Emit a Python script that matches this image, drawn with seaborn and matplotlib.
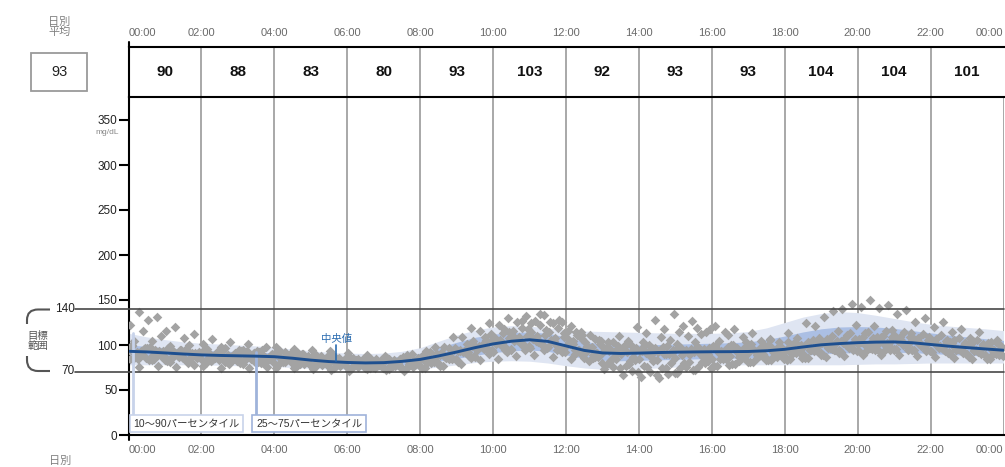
import numpy as np
import pandas as pd
import matplotlib
matplotlib.use("Agg")
import matplotlib.pyplot as plt
from matplotlib.lines import Line2D
from matplotlib.path import Path
from matplotlib.patches import PathPatch, Rectangle
import matplotlib.transforms as mtransforms
import seaborn as sns

# ---------------------------------------------------------------- data
tick_hours = list(range(0, 25, 2))
tick_labels = ["00:00", "02:00", "04:00", "06:00", "08:00", "10:00", "12:00",
               "14:00", "16:00", "18:00", "20:00", "22:00", "00:00"]

# two-hour block averages (mg/dL) and the daily average
block_centers = [1, 3, 5, 7, 9, 11, 13, 15, 17, 19, 21, 23]
block_means = [90, 88, 83, 80, 93, 103, 92, 93, 93, 104, 104, 101]
daily_mean = 93

# percentile profile, every 30 minutes from 00:00 to 24:00
profile_hours = [i * 0.5 for i in range(49)]
p10 = [78, 78, 78, 78, 78, 77.5, 77, 76.5, 76, 75, 74, 73, 72.5, 72, 72, 72.5,
       73.5, 75.5, 78, 80.5, 82, 82.5, 82, 80, 77, 74.5, 73, 73, 73.5, 74.5,
       75.5, 76.5, 77.5, 78, 78, 78, 78, 78, 78, 78, 78.5, 79, 79, 79.5, 80,
       80, 80, 80, 80]
p25 = [87, 86.5, 86, 85.2, 84.5, 84, 83.5, 83, 82.3, 81, 79.5, 78, 77, 76.6,
       76.8, 77.8, 79.5, 82, 85, 88.5, 91.5, 93.5, 94.5, 93, 89, 85, 83, 82.5,
       83, 83.5, 84, 84.5, 85, 85.2, 85.5, 86, 87, 88.5, 90, 91, 91.5, 92, 92,
       91.5, 90.5, 89.5, 88.5, 88, 87.5]
p50 = [93, 92.3, 91.2, 90, 89, 88.4, 88, 87.6, 87, 85.3, 83.2, 81.6, 80.6, 80.1,
       80.4, 81.8, 84, 87.8, 92.2, 97, 101.2, 104.2, 105.8, 104, 99, 94, 91.2,
       90.6, 91, 91.6, 92, 92.3, 92.5, 92.6, 92.8, 93.6, 95.2, 97.8, 100.2,
       101.6, 102.6, 103.2, 103.4, 102.5, 100.6, 98.7, 97.1, 95.6, 94.2]
p75 = [100, 98.5, 97, 95.5, 94.3, 93.4, 92.7, 92, 91.3, 89.6, 87.7, 86.2, 85.3,
       85, 85.5, 87.5, 91, 97, 103, 108.5, 112, 114, 114.5, 113, 109, 104, 101,
       100, 100, 100.5, 101, 101.5, 102, 102.5, 103.5, 106, 110, 114.5, 118,
       120, 120.5, 120, 118.5, 116, 113.5, 111, 109, 107, 105]
p90 = [113, 109, 106, 103.5, 102, 101, 100, 99, 97.5, 95.5, 93.5, 92, 91, 90.5,
       91, 93, 97, 104, 111, 116.5, 120, 121.5, 121, 119, 117, 115.5, 115,
       114.5, 114, 113.5, 113, 113, 113, 113.5, 115, 119, 125, 131, 135, 137,
       136, 133, 129.5, 126, 123, 121, 119.5, 118, 116]

# sensor readings, one list per day, every 15 minutes from midnight
day_01 = [94, 85, 97, 88, 83, 92, 86, 90, 91, 82, 88, 79, 86, 93, 84, 80,
          88, 81, 85, 90, 78, 86, 80, 84, 76, 83, 79, 74, 81, 77, 75, 80,
          77, 84, 80, 88, 83, 91, 87, 96, 92, 99, 94, 103, 97, 104, 98, 95,
          99, 90, 94, 86, 91, 84, 90, 82, 85, 92, 83, 90, 86, 80, 92, 87,
          84, 93, 88, 82, 91, 86, 84, 93, 87, 95, 90, 96, 91, 99, 94, 97,
          101, 94, 99, 95, 96, 102, 95, 100, 93, 99, 92, 96, 90, 95, 89, 93]
day_02 = [122, 137, 128, 131, 116, 120, 108, 112, 101, 107, 98, 103, 95, 101, 93, 98,
          98, 92, 96, 90, 95, 88, 93, 86, 91, 85, 89, 84, 88, 83, 87, 90,
          85, 92, 89, 97, 93, 101, 98, 109, 104, 113, 110, 119, 115, 122, 114, 119,
          108, 115, 103, 107, 97, 103, 95, 100, 93, 100, 92, 99, 101, 95, 103, 96,
          99, 92, 100, 93, 98, 93, 100, 96, 95, 103, 99, 106, 102, 110, 105, 113,
          107, 115, 109, 116, 110, 115, 107, 112, 104, 111, 103, 108, 101, 106, 99, 103]
day_03 = [85, 76, 83, 77, 82, 76, 84, 78, 77, 83, 75, 82, 80, 74, 81, 76,
          75, 81, 74, 79, 73, 78, 72, 77, 71, 76, 73, 78, 72, 77, 71, 76,
          74, 80, 77, 85, 81, 92, 95, 106, 108, 118, 116, 127, 124, 134, 126, 128,
          116, 111, 92, 87, 73, 76, 67, 71, 64, 70, 63, 68, 69, 76, 72, 80,
          77, 84, 79, 86, 81, 88, 83, 87, 83, 91, 86, 93, 89, 96, 92, 99,
          93, 100, 95, 102, 96, 101, 94, 99, 92, 97, 89, 94, 87, 92, 85, 90]
day_04 = [99, 92, 98, 93, 97, 90, 96, 91, 95, 88, 94, 87, 93, 87, 92, 86,
          93, 86, 91, 84, 89, 82, 87, 80, 85, 79, 84, 78, 85, 79, 86, 82,
          89, 83, 91, 86, 93, 88, 97, 94, 101, 95, 104, 99, 107, 101, 106, 98,
          103, 95, 99, 91, 95, 88, 94, 87, 93, 87, 95, 90, 97, 91, 98, 92,
          99, 93, 100, 94, 101, 97, 106, 103, 113, 108, 125, 121, 131, 138, 140, 146,
          142, 150, 141, 144, 135, 139, 126, 130, 120, 126, 114, 118, 108, 114, 102, 106]
day_05 = [100, 93, 97, 90, 95, 88, 94, 87, 93, 86, 94, 88, 92, 85, 91, 86,
          91, 84, 89, 83, 88, 81, 86, 80, 85, 79, 86, 80, 86, 81, 87, 80,
          88, 82, 91, 87, 95, 89, 99, 96, 103, 97, 106, 100, 107, 100, 104, 97,
          101, 94, 98, 91, 97, 92, 99, 95, 103, 97, 109, 106, 115, 110, 119, 114,
          121, 114, 118, 109, 113, 104, 107, 99, 103, 96, 101, 95, 101, 95, 102, 97,
          103, 97, 104, 99, 105, 98, 104, 97, 103, 96, 102, 95, 101, 94, 99, 93]
day_06 = [84, 90, 83, 88, 81, 87, 80, 86, 80, 86, 81, 85, 79, 85, 80, 84,
          79, 84, 77, 83, 77, 82, 75, 80, 74, 79, 74, 78, 73, 78, 74, 79,
          75, 81, 77, 84, 79, 86, 83, 90, 85, 92, 88, 94, 89, 95, 87, 92,
          85, 91, 82, 87, 79, 85, 77, 83, 77, 82, 75, 80, 75, 81, 76, 82,
          77, 84, 79, 86, 81, 88, 83, 90, 85, 92, 86, 93, 87, 94, 88, 95,
          89, 96, 89, 95, 89, 95, 88, 93, 87, 93, 86, 91, 85, 90, 84, 89]
day_07 = [105, 116, 104, 110, 99, 94, 100, 91, 96, 90, 97, 89, 95, 88, 94, 89,
          93, 87, 91, 84, 89, 83, 88, 81, 86, 80, 85, 79, 84, 80, 89, 85,
          93, 98, 98, 109, 109, 119, 116, 125, 122, 130, 126, 132, 127, 133, 124, 126,
          121, 115, 111, 106, 103, 96, 100, 93, 99, 92, 98, 91, 97, 90, 97, 90,
          96, 89, 96, 89, 95, 90, 97, 92, 99, 95, 103, 99, 107, 102, 108, 103,
          109, 104, 109, 103, 109, 102, 108, 101, 107, 100, 106, 99, 105, 98, 103, 96]
day_08 = [90, 96, 89, 93, 87, 93, 86, 92, 86, 92, 86, 91, 85, 91, 85, 90,
          84, 90, 82, 88, 81, 87, 79, 85, 78, 84, 78, 83, 77, 84, 79, 86,
          81, 88, 87, 95, 92, 99, 98, 105, 101, 108, 104, 110, 105, 111, 104, 109,
          101, 107, 97, 101, 93, 99, 92, 97, 91, 97, 90, 95, 89, 96, 90, 97,
          91, 98, 92, 99, 93, 99, 92, 97, 91, 99, 94, 102, 97, 105, 100, 107,
          101, 108, 102, 109, 103, 109, 101, 106, 99, 105, 97, 102, 95, 101, 94, 99]
day_09 = [88, 97, 84, 92, 86, 95, 82, 90, 84, 92, 81, 89, 83, 91, 80, 87,
          82, 89, 79, 86, 80, 87, 77, 84, 78, 85, 76, 82, 77, 84, 78, 85,
          80, 90, 86, 97, 93, 104, 100, 112, 106, 115, 109, 118, 110, 117, 108, 113,
          104, 111, 98, 105, 96, 110, 104, 120, 113, 128, 118, 135, 121, 127, 112, 118,
          104, 111, 97, 103, 92, 99, 88, 95, 90, 100, 95, 108, 104, 116, 111, 122,
          113, 121, 110, 117, 106, 113, 102, 109, 99, 106, 95, 102, 93, 100, 90, 97]
day_10 = [92, 86, 95, 88, 93, 86, 91, 84, 90, 83, 89, 82, 88, 81, 87, 80,
          86, 80, 85, 78, 84, 77, 82, 76, 81, 75, 80, 74, 80, 74, 81, 77,
          84, 79, 88, 85, 93, 88, 98, 95, 102, 96, 105, 99, 103, 97, 100, 92,
          94, 86, 89, 80, 83, 74, 79, 70, 76, 67, 74, 69, 78, 72, 81, 75,
          84, 78, 87, 81, 89, 83, 91, 85, 92, 86, 95, 89, 97, 91, 99, 93,
          100, 94, 101, 95, 100, 94, 99, 93, 97, 91, 96, 90, 95, 89, 94, 88]

days = [day_01, day_02, day_03, day_04, day_05,
        day_06, day_07, day_08, day_09, day_10]
# minute at which each day's sensor reports within its 15-minute cycle
sensor_offset_min = [0, 2, 3, 5, 6, 8, 9, 11, 12, 14]

rows = []
for day, offset in zip(days, sensor_offset_min):
    for slot, value in enumerate(day):
        rows.append({"hour": (slot * 15 + offset) / 60.0, "glucose": value})
readings = pd.DataFrame(rows)

# ---------------------------------------------------------------- style
sns.set_theme(style="white")
plt.rcParams["font.family"] = ["Liberation Sans", "Noto Sans CJK JP", "DejaVu Sans"]

W, H = 1005, 467
fig = plt.figure(figsize=(W / 100, H / 100), dpi=100)


def fx(px):
    return px / W


def fy(py):
    return 1 - py / H


X0, X1 = 128.5, 1003.5
Y_BOT, Y_TOP = 435, 96.7
HEAD_TOP = 46.7
PX_PER_UNIT = 0.9

GRID = "#9a9a9a"
BAND_OUTER = "#dfe5f2"
BAND_INNER = "#abbfe4"
MEDIAN = "#1e4f8f"
POINT = "#a3a3a3"

# ---------------------------------------------------------------- main plot
ax = fig.add_axes([fx(X0), fy(Y_BOT), (X1 - X0) / W, (Y_BOT - Y_TOP) / H])
ax.set_xlim(0, 24)
ax.set_ylim(0, (Y_BOT - Y_TOP) / PX_PER_UNIT)

for h in tick_hours[1:]:
    ax.axvline(h, color=GRID, lw=1.2, zorder=0.5)

ax.fill_between(profile_hours, p10, p90, color=BAND_OUTER, lw=0, zorder=1)
ax.fill_between(profile_hours, p25, p75, color=BAND_INNER, lw=0, zorder=1.1)

sns.scatterplot(data=readings, x="hour", y="glucose", marker="D", s=24,
                color=POINT, linewidth=0, ax=ax, zorder=3, legend=False)
sns.lineplot(x=profile_hours, y=p50, color=MEDIAN, lw=2.1, ax=ax, zorder=5)

# target range lines, extended into the left margin
trans = mtransforms.blended_transform_factory(ax.transAxes, ax.transData)
x_left = (75 - X0) / (X1 - X0)
for level in (140, 70):
    ax.plot([x_left, 1], [level, level], color="#474747", lw=1.2,
            transform=trans, clip_on=False, zorder=4)

ax.set_yticks(range(0, 351, 50))
ax.set_yticklabels([str(v) for v in range(0, 351, 50)])
ax.tick_params(axis="y", direction="out", length=7, width=1.5, color="black",
               labelsize=8.5, labelcolor="#222222", pad=1, left=True)
ax.set_xticks(tick_hours)
xl = ax.set_xticklabels(tick_labels)
xl[0].set_ha("left")
xl[-1].set_ha("right")
ax.tick_params(axis="x", length=0, labelsize=8, labelcolor="#6a6a6a", pad=7)
ax.set_xlabel("")
ax.set_ylabel("")
for side in ("top", "right"):
    ax.spines[side].set_visible(False)
for side in ("left", "bottom"):
    ax.spines[side].set_color("black")
    ax.spines[side].set_linewidth(1.5)

# percentile / median callouts
ax.plot([0.13, 0.13], [23.5, 113], color="#c8d3ea", lw=2, zorder=4)
ax.text(0.13, 13, "10～90パーセンタイル", ha="left", va="center", fontsize=7.5,
        color="#333333", zorder=6,
        bbox=dict(boxstyle="square,pad=0.35", fc="white", ec="#c8d3ea", lw=1.2))
ax.plot([3.5, 3.5], [23.5, 92], color="#9fb3da", lw=2, zorder=4)
ax.text(3.5, 13, "25～75パーセンタイル", ha="left", va="center", fontsize=7.5,
        color="#333333", zorder=6,
        bbox=dict(boxstyle="square,pad=0.35", fc="white", ec="#9fb3da", lw=1.2))
ax.plot([5.68, 5.68], [100, 82], color="#2b6cb0", lw=1.2, zorder=6)
ax.text(5.7, 106.5, "中央値", ha="center", va="center", fontsize=7.5,
        color="#2b6cb0", zorder=6)

# ---------------------------------------------------------------- header row
hx = fig.add_axes([fx(X0), fy(Y_TOP), (X1 - X0) / W, (Y_TOP - HEAD_TOP) / H])
hx.set_xlim(0, 24)
hx.set_ylim(0, 1)
hx.set_xticks([])
hx.set_yticks([])
hx.patch.set_alpha(0)
hx.spines["right"].set_visible(False)
for side in ("top", "bottom", "left"):
    hx.spines[side].set_color("black")
    hx.spines[side].set_linewidth(1.5)
for h in tick_hours[1:-1]:
    hx.axvline(h, color=GRID, lw=1.2)
for c, v in zip(block_centers, block_means):
    hx.text(c, 0.5, str(v), ha="center", va="center", fontsize=11,
            fontweight="bold", color="#111111")
for i, (h, lab) in enumerate(zip(tick_hours, tick_labels)):
    ha = "left" if i == 0 else ("right" if i == len(tick_hours) - 1 else "center")
    hx.text(h, 1.27, lab, ha=ha, va="center", fontsize=8, color="#6a6a6a")

# axis line stubs above the header and below the time axis
fig.add_artist(Line2D([fx(X0), fx(X0)], [fy(41.7), fy(HEAD_TOP)],
                      color="black", lw=1.5))
fig.add_artist(Line2D([fx(X0), fx(X0)], [fy(Y_BOT), fy(440)],
                      color="black", lw=1.5))

# ---------------------------------------------------------------- left margin
fig.text(fx(59.5), fy(27), "日別\n平均", ha="center", va="center", fontsize=8,
         color="#808080", linespacing=0.95)
fig.add_artist(Rectangle((fx(31), fy(90.7)), (87 - 31) / W, (90.7 - 52.7) / H,
                         transform=fig.transFigure, fill=False,
                         ec="#9a9a9a", lw=1.3))
fig.text(fx(59), fy(72), str(daily_mean), ha="center", va="center",
         fontsize=10.5, color="#222222")
fig.text(fx(119), fy(133), "mg/dL", ha="right", va="center", fontsize=6,
         color="#888888")

fig.text(fx(75), fy(309), "140", ha="right", va="center", fontsize=8.5,
         color="#222222")
fig.text(fx(75), fy(371), "70", ha="right", va="center", fontsize=8.5,
         color="#222222")


def to_fig(points):
    return [(fx(x), fy(y)) for x, y in points]


bracket_top = Path(to_fig([(50, 309.5), (38, 309.5), (27, 309.5), (27, 320), (27, 324)]),
                   [Path.MOVETO, Path.LINETO, Path.CURVE3, Path.CURVE3, Path.LINETO])
bracket_bot = Path(to_fig([(27, 356), (27, 360), (27, 371), (38, 371), (50, 371)]),
                   [Path.MOVETO, Path.LINETO, Path.CURVE3, Path.CURVE3, Path.LINETO])
for p in (bracket_top, bracket_bot):
    fig.add_artist(PathPatch(p, transform=fig.transFigure, fill=False,
                             ec="#555555", lw=1.5))
fig.text(fx(38), fy(341), "目標\n範囲", ha="center", va="center", fontsize=7.5,
         color="#555555", linespacing=1.0)

fig.text(fx(60), fy(456), "日別", ha="center", va="top", fontsize=8,
         color="#808080")

fig.savefig("out.png", dpi=100)
